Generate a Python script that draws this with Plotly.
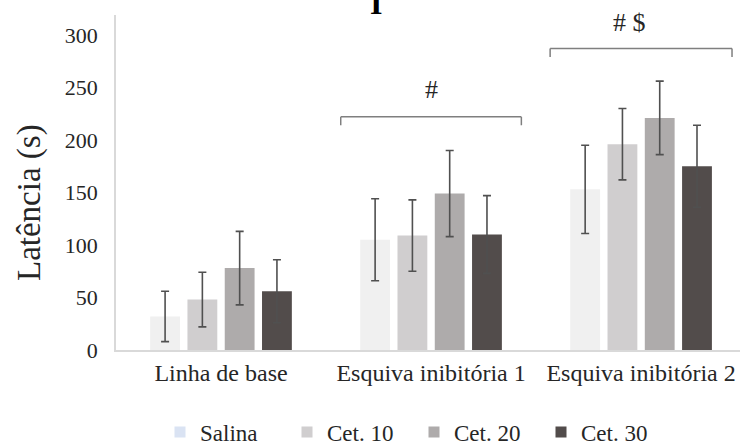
import plotly.graph_objects as go

categories = ["Linha de base", "Esquiva inibitória 1", "Esquiva inibitória 2"]
series_names = ["Salina", "Cet. 10", "Cet. 20", "Cet. 30"]
salina = [32, 105, 153]
cet10 = [48, 109, 196]
cet20 = [78, 149, 221]
cet30 = [56, 110, 175]
salina_err = [24, 39, 42]
cet10_err = [26, 34, 34]
cet20_err = [35, 41, 35]
cet30_err = [30, 37, 39]
y_ticks = [0, 50, 100, 150, 200, 250, 300]

values = [salina, cet10, cet20, cet30]
errors = [salina_err, cet10_err, cet20_err, cet30_err]
bar_colors = ["#f0f0f0", "#d0cecf", "#aeabab", "#524c4b"]
legend_colors = ["#dae3f3", "#d0cecf", "#aeabab", "#524c4b"]
FONT = "Liberation Serif"

x_idx = list(range(len(categories)))

fig = go.Figure()
for name, vals, errs, col in zip(series_names, values, errors, bar_colors):
    fig.add_trace(go.Bar(
        x=x_idx, y=vals, name=name, marker_color=col, showlegend=False,
        marker_line_width=0,
        error_y=dict(type="data", array=errs, color="#505050", thickness=1.6, width=4),
    ))
for name, col in zip(series_names, legend_colors):
    fig.add_trace(go.Scatter(
        x=[None], y=[None], mode="markers", name=name,
        marker=dict(symbol="square", size=11, color=col),
    ))

# brackets
def bracket(xc, half, y, drop):
    c = "#7f7f7f"
    fig.add_shape(type="line", x0=xc - half, x1=xc + half, y0=y, y1=y, line=dict(color=c, width=1.5))
    fig.add_shape(type="line", x0=xc - half, x1=xc - half, y0=y, y1=y - drop, line=dict(color=c, width=1.5))
    fig.add_shape(type="line", x0=xc + half, x1=xc + half, y0=y, y1=y - drop, line=dict(color=c, width=1.5))

bracket(1, 0.43, 222, 8)
bracket(2, 0.433, 287, 8)
fig.add_annotation(x=1, y=248, text="#", showarrow=False, font=dict(family=FONT, size=26, color="#262626"))
fig.add_annotation(x=1.945, y=312, text="# $", showarrow=False, font=dict(family=FONT, size=26, color="#262626"))
# cropped title fragment (the rest lies above the picture)
fig.add_annotation(xref="paper", yref="paper", x=(376 - 116) / 624, y=1.0956, yanchor="top",
                   text="<b>I</b>", showarrow=False,
                   font=dict(family=FONT, size=32, color="#000000"))
# y-axis title
fig.add_annotation(xref="paper", yref="paper", x=(29 - 116) / 624, y=(350 - 203) / 335,
                   xanchor="center", yanchor="middle", textangle=-90,
                   text="Latência (s)", showarrow=False,
                   font=dict(family=FONT, size=33, color="#262626"))

fig.update_layout(
    width=740, height=445,
    margin=dict(l=116, r=0, t=15, b=95),
    paper_bgcolor="white", plot_bgcolor="white",
    barmode="group", bargap=0.29, bargroupgap=0.2,
    font=dict(family=FONT, color="#262626"),
    xaxis=dict(
        tickmode="array", tickvals=x_idx, ticktext=categories,
        range=[-0.5, 2.471], showgrid=False, zeroline=False,
        showline=True, linecolor="#d9d9d9", linewidth=1.5,
        ticks="", tickfont=dict(family=FONT, size=24, color="#262626"),
    ),
    yaxis=dict(
        range=[0, 319], tickvals=y_ticks, showgrid=False, zeroline=False,
        showline=True, linecolor="#d9d9d9", linewidth=1.5,
        ticks="", ticklabelstandoff=12,
        tickfont=dict(family=FONT, size=22, color="#262626"),
    ),
    legend=dict(
        orientation="h", xref="container", yref="container",
        x=160 / 740, xanchor="left", y=1 - 432 / 445, yanchor="middle",
        font=dict(family=FONT, size=23, color="#262626"),
        entrywidth=82, entrywidthmode="pixels", itemwidth=30,
    ),
)

fig.write_html("out.html")
